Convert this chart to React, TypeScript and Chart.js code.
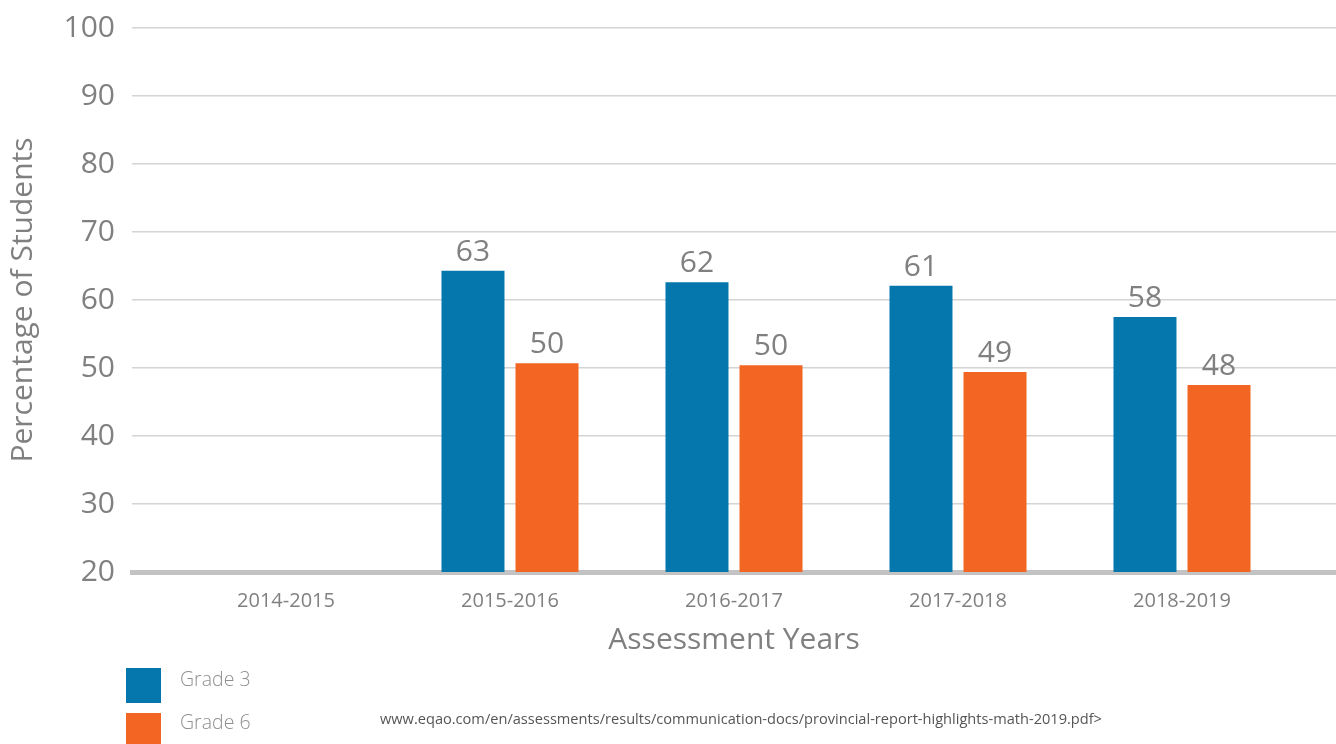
import React, { useEffect, useRef } from "react";
import { Chart, registerables } from "chart.js";

Chart.register(...registerables);

const categories = ["2014-2015", "2015-2016", "2016-2017", "2017-2018", "2018-2019"];
const grade3Values: (number | null)[] = [null, 64.3, 62.6, 62.1, 57.5];
const grade6Values: (number | null)[] = [null, 50.7, 50.4, 49.4, 47.5];
const grade3Labels: (string | null)[] = [null, "63", "62", "61", "58"];
const grade6Labels: (string | null)[] = [null, "50", "50", "49", "48"];
const yTicks = [20, 30, 40, 50, 60, 70, 80, 90, 100];
const seriesNames = ["Grade 3", "Grade 6"];
const seriesColors = ["#0677ad", "#f26522"];
const sourceText =
  "www.eqao.com/en/assessments/results/communication-docs/provincial-report-highlights-math-2019.pdf>";

const FONT = "'Open Sans', 'Noto Sans', sans-serif";

const valueLabelPlugin = {
  id: "valueLabels",
  afterDatasetsDraw(chart: any) {
    const ctx = chart.ctx;
    const labelSets = [grade3Labels, grade6Labels];
    ctx.save();
    ctx.font = `400 30px ${FONT}`;
    ctx.fillStyle = "#808080";
    ctx.textAlign = "center";
    ctx.textBaseline = "alphabetic";
    chart.data.datasets.forEach((_ds: any, di: number) => {
      const meta = chart.getDatasetMeta(di);
      meta.data.forEach((el: any, i: number) => {
        const lab = labelSets[di][i];
        if (lab == null) return;
        ctx.fillText(lab, el.x, el.y - 10);
      });
    });
    ctx.restore();
  },
};

export default function App() {
  const canvasRef = useRef<HTMLCanvasElement | null>(null);

  useEffect(() => {
    if (!canvasRef.current) return;
    const toPts = (arr: (number | null)[]) => arr.map((v, i) => ({ x: i, y: v }));
    const chart = new Chart(canvasRef.current, {
      type: "bar",
      data: {
        datasets: [
          {
            label: seriesNames[0],
            data: toPts(grade3Values) as any,
            backgroundColor: seriesColors[0],
            categoryPercentage: 0.661,
            barPercentage: 0.851,
          },
          {
            label: seriesNames[1],
            data: toPts(grade6Values) as any,
            backgroundColor: seriesColors[1],
            categoryPercentage: 0.661,
            barPercentage: 0.851,
          },
        ],
      },
      options: {
        animation: false,
        responsive: false,
        maintainAspectRatio: false,
        layout: { padding: { left: 0, right: 0, top: 28, bottom: 86 } },
        plugins: {
          legend: { display: false },
          tooltip: { enabled: false },
        },
        scales: {
          x: {
            type: "linear",
            offset: false,
            min: -0.6875,
            max: categories.length - 1 + 0.6875,
            z: 1,
            grid: { display: false, drawTicks: false, offset: false },
            border: { display: true, color: "#c3c3c3", width: 5 },
            afterBuildTicks: (scale: any) => {
              scale.ticks = categories.map((_, i) => ({ value: i }));
            },
            afterFit: (scale: any) => {
              scale.height = 86;
              scale.paddingLeft = 0;
              scale.paddingRight = 0;
            },
            ticks: {
              autoSkip: false,
              maxRotation: 0,
              padding: 17,
              color: "#808080",
              font: { family: FONT, size: 20 },
              callback: (v: any) => categories[Number(v)] ?? "",
            },
            title: {
              display: true,
              text: "Assessment Years",
              color: "#808080",
              font: { family: FONT, size: 30 },
              padding: { top: 0, bottom: 0 },
            },
          },
          y: {
            min: yTicks[0],
            max: yTicks[yTicks.length - 1],
            afterBuildTicks: (scale: any) => {
              scale.ticks = yTicks.map((v) => ({ value: v }));
            },
            afterFit: (scale: any) => {
              scale.width = 132;
              scale.paddingTop = 0;
              scale.paddingBottom = 0;
            },
            grid: { color: "#d4d4d4", lineWidth: 1.5, drawTicks: false },
            border: { display: false },
            ticks: {
              padding: 17,
              color: "#808080",
              font: { family: FONT, size: 30 },
            },
            title: {
              display: true,
              text: "Percentage of Students",
              color: "#808080",
              font: { family: FONT, size: 30 },
              padding: { top: 5, bottom: 0 },
            },
          },
        },
      },
      plugins: [valueLabelPlugin],
    });
    return () => chart.destroy();
  }, []);

  const legendText: React.CSSProperties = {
    position: "absolute",
    left: 180,
    fontFamily: FONT,
    fontWeight: 300,
    fontSize: 19.5,
    color: "#8f8f8f",
    lineHeight: "24px",
    whiteSpace: "nowrap",
  };

  return (
    <div style={{ position: "fixed", left: 0, top: 0, width: 1336, height: 744, background: "#fff", overflow: "hidden" }}>
      <canvas ref={canvasRef} width={1336} height={744} style={{ position: "absolute", left: 0, top: 0, width: 1336, height: 744 }} />
      <div style={{ position: "absolute", left: 126, top: 668, width: 35, height: 35, background: seriesColors[0] }} />
      <div style={{ ...legendText, top: 667 }}>{seriesNames[0]}</div>
      <div style={{ position: "absolute", left: 126, top: 713, width: 35, height: 35, background: seriesColors[1] }} />
      <div style={{ ...legendText, top: 710 }}>{seriesNames[1]}</div>
      <div
        style={{
          position: "absolute",
          left: 380,
          top: 709,
          fontFamily: FONT,
          fontSize: 14.6,
          color: "#555555",
          lineHeight: "18px",
          whiteSpace: "nowrap",
        }}
      >
        {sourceText}
      </div>
    </div>
  );
}
